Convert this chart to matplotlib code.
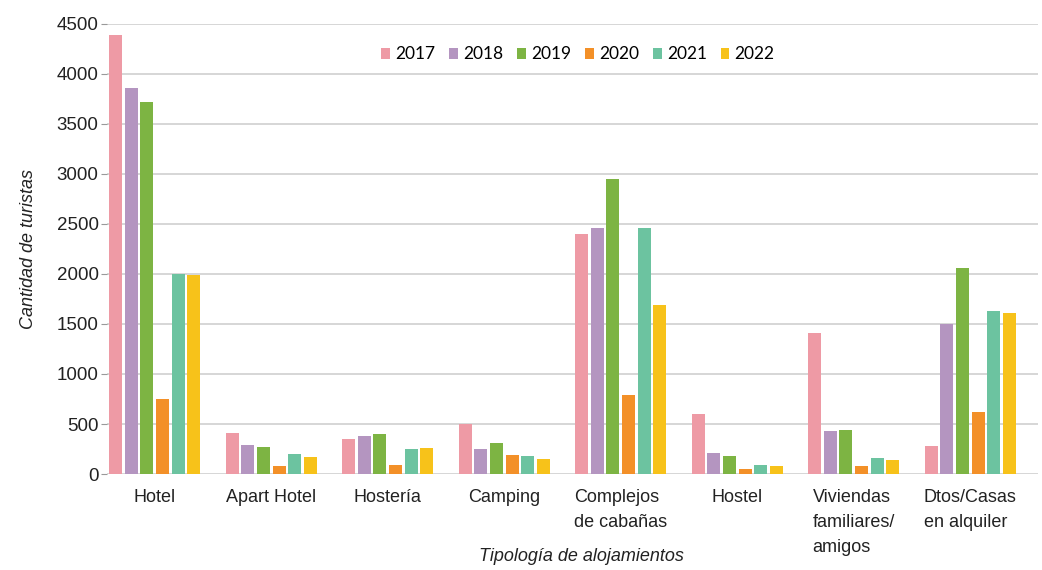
import numpy as np
import matplotlib
matplotlib.use('Agg')
import matplotlib.pyplot as plt

# Data
categories = ['Hotel', 'Apart Hotel', 'Hostería', 'Camping', 'Complejos\nde cabañas',
              'Hostel', 'Viviendas\nfamiliares/\namigos', 'Dtos/Casas\nen alquiler']
years = ['2017', '2018', '2019', '2020', '2021', '2022']

v2017 = [4390, 410, 355, 500, 2400, 600, 1410, 280]
v2018 = [3860, 295, 385, 255, 2460, 210, 435, 1500]
v2019 = [3720, 275, 405, 315, 2950, 185, 440, 2055]
v2020 = [750, 85, 95, 190, 790, 55, 85, 620]
v2021 = [2000, 200, 255, 185, 2460, 95, 160, 1625]
v2022 = [1990, 170, 265, 155, 1690, 80, 140, 1610]

colors = ['#EE9AA5', '#B495C0', '#7DB443', '#F39028', '#6CC3A0', '#F7C21A']

series = [v2017, v2018, v2019, v2020, v2021, v2022]

plt.rcParams['font.family'] = ['Liberation Sans', 'DejaVu Sans']

fig = plt.figure(figsize=(10.42, 5.70), dpi=100)
ax = fig.add_axes([0.1027, 0.1684, 0.8933, 0.7896])

x = np.arange(len(categories))
slot = 0.134
bar_w = 0.112
for i, (vals, yr, c) in enumerate(zip(series, years, colors)):
    offs = (i - 2.5) * slot
    ax.bar(x + offs, vals, width=bar_w, color=c, label=yr, zorder=3)

ax.set_ylim(0, 4500)
ax.set_xlim(-0.41, 7.58)
ax.set_yticks(np.arange(0, 4501, 500))
ax.yaxis.grid(True, color='#cccccc', linewidth=1.1, zorder=0)
ax.set_axisbelow(True)

for s in ['top', 'right', 'left', 'bottom']:
    ax.spines[s].set_visible(False)

ax.tick_params(axis='y', length=4, color='#999999', labelsize=13.5, pad=2,
               labelcolor='#222222')
ax.tick_params(axis='x', length=0, labelsize=13, pad=11, labelcolor='#222222')
ax.set_xticks(x)
ax.set_xticklabels(categories, va='top', ha='center', multialignment='left',
                   linespacing=1.6)

ax.set_ylabel('Cantidad de turistas', fontsize=13, style='italic', color='#222222',
              labelpad=14)
ax.set_xlabel('Tipología de alojamientos', fontsize=13, style='italic', color='#222222',
              labelpad=2)
ax.xaxis.set_label_coords(0.51, -0.165)

leg = ax.legend(loc='upper center', bbox_to_anchor=(0.506, 0.985), ncol=6, frameon=False,
                handlelength=0.5, handleheight=0.6, handletextpad=0.3, columnspacing=0.8,
                prop={'family': ['Lato', 'DejaVu Sans'], 'size': 12.5})

fig.savefig('out.png', dpi=100)
